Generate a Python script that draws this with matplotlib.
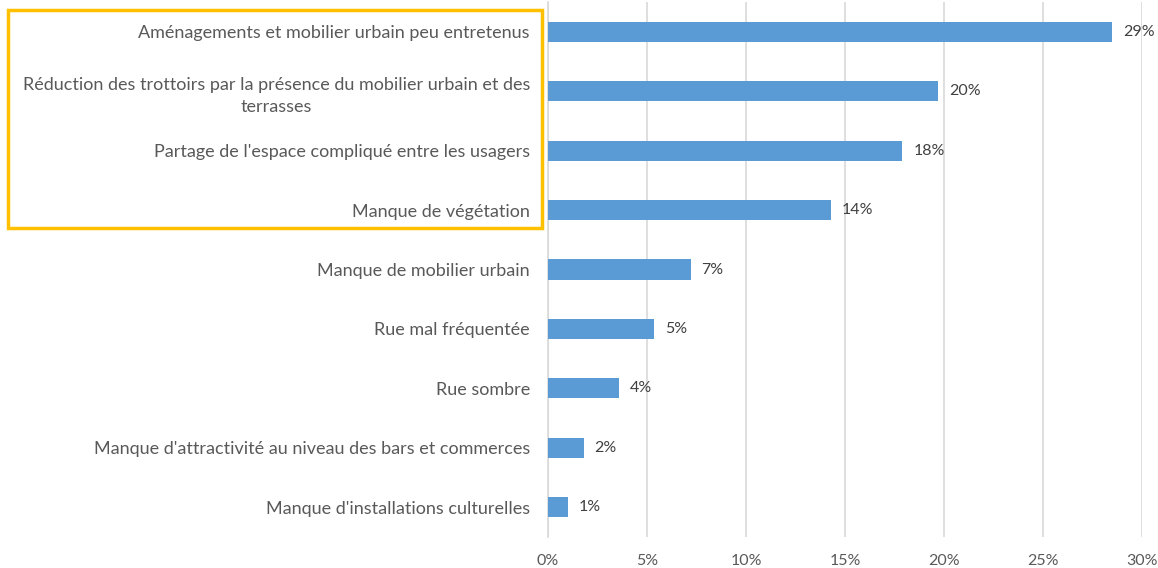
import matplotlib.pyplot as plt
import matplotlib.patches as patches

categories = [
    "Aménagements et mobilier urbain peu entretenus",
    "Réduction des trottoirs par la présence du mobilier urbain et des\nterrasses",
    "Partage de l'espace compliqué entre les usagers",
    "Manque de végétation",
    "Manque de mobilier urbain",
    "Rue mal fréquentée",
    "Rue sombre",
    "Manque d'attractivité au niveau des bars et commerces",
    "Manque d'installations culturelles",
]
values = [28.5, 19.7, 17.9, 14.3, 7.2, 5.35, 3.6, 1.8, 1.0]
value_labels = ["29%", "20%", "18%", "14%", "7%", "5%", "4%", "2%", "1%"]
xticks = [0, 5, 10, 15, 20, 25, 30]

plt.rcParams['font.family'] = ['Lato', 'DejaVu Sans']

fig = plt.figure(figsize=(11.58, 5.68), dpi=100)
ax = fig.add_axes([548 / 1158, 1 - 537 / 568, 594 / 1158, 535 / 568])

y = list(range(len(categories)))
ax.barh(y, values, height=0.34, color="#5B9BD5", zorder=3)
ax.set_ylim(len(categories) - 0.5, -0.5)
ax.set_xlim(0, 30)

for yi, v, lab in zip(y, values, value_labels):
    ax.text(v + 0.55, yi, lab, va="center", ha="left", fontsize=11.5, color="#404040")

ax.set_yticks(y)
ax.set_yticklabels(categories, fontsize=13, color="#595959",
                   multialignment="center", linespacing=1.45)
ax.set_xticks(xticks)
ax.set_xticklabels([f"{t}%" for t in xticks], fontsize=11.5, color="#595959")
ax.tick_params(axis="y", length=0, pad=13)
ax.tick_params(axis="x", length=0, pad=12)

ax.grid(axis="x", color="#D9D9D9", linewidth=1.2, zorder=0)
for s in ["top", "right", "bottom"]:
    ax.spines[s].set_visible(False)
ax.spines["left"].set_color("#D9D9D9")
ax.spines["left"].set_linewidth(1.2)

# yellow highlight box around top four labels
box = patches.Rectangle((8 / 1158, 1 - 228 / 568), 534 / 1158, 218 / 568,
                        transform=fig.transFigure, fill=False,
                        edgecolor="#FFC000", linewidth=2.5)
fig.patches.append(box)

fig.savefig("out.png", dpi=100)
